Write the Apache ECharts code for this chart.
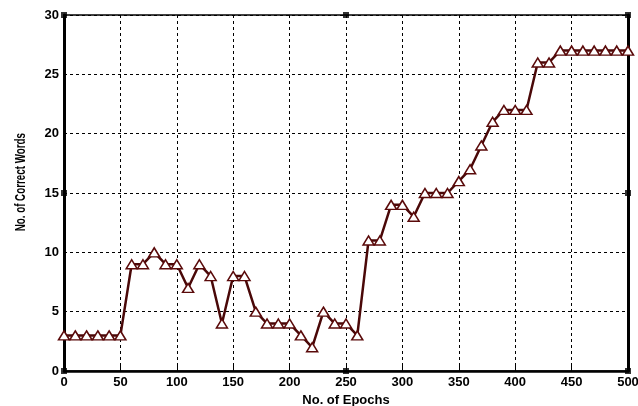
<!DOCTYPE html>
<html><head><meta charset="utf-8">
<script src="https://cdn.jsdelivr.net/npm/echarts@6/dist/echarts.min.js"></script>
<style>html,body{margin:0;padding:0;background:#fff}#c{width:638px;height:406px}</style>
</head><body><div id="c"></div>
<script>
const epochs = [0,10,20,30,40,50,60,70,80,90,100,110,120,130,140,150,160,170,180,190,200,210,220,230,240,250,260,270,280,290,300,310,320,330,340,350,360,370,380,390,400,410,420,430,440,450,460,470,480,490,500];
const correctWords = [3,3,3,3,3,3,9,9,10,9,9,7,9,8,4,8,8,5,4,4,4,3,2,5,4,4,3,11,11,14,14,13,15,15,15,16,17,19,21,22,22,22,26,26,27,27,27,27,27,27,27];
const frameMarks = [[0,0],[250,0],[500,0],[0,15],[500,15],[0,30],[250,30],[500,30]];
const yTitle = 'No. of Correct Words';
const xTitle = 'No. of Epochs';

const chart = echarts.init(document.getElementById('c'));
const lblFont = {fontFamily:'Liberation Sans, Arial', fontWeight:'bold', fontSize:13, color:'#000'};
chart.setOption({
  animation:false,
  grid:{left:64,right:10,top:15,bottom:35,outerBoundsMode:'none',containLabel:false,
        show:true,borderColor:'#000',borderWidth:1.5,backgroundColor:'#fff'},
  graphic:[{type:'text',left:14,top:133,rotation:Math.PI/2,scaleX:0.7,
    style:{text:yTitle,font:'bold 14px "Liberation Sans", Arial',fill:'#000'}}],
  xAxis:{type:'value',min:0,max:500,interval:50,
    name:xTitle,nameLocation:'middle',nameGap:23,
    nameTextStyle:{fontFamily:'Liberation Sans, Arial',fontWeight:'bold',fontSize:13,color:'#000'},
    axisLine:{lineStyle:{color:'#000',width:2.5}},
    axisTick:{inside:true,length:6,lineStyle:{color:'#000',width:1}},
    axisLabel:Object.assign({margin:5,showMaxLabel:true,hideOverlap:false},lblFont),
    splitLine:{show:true,lineStyle:{color:'#000',type:[3,3],width:1}}},
  yAxis:[{type:'value',min:0,max:30,interval:5,
    axisLine:{lineStyle:{color:'#000',width:3}},
    axisTick:{show:false},
    axisLabel:Object.assign({margin:5},lblFont),
    splitLine:{show:true,lineStyle:{color:'#000',type:[3,3],width:1}}},
    {type:'value',min:0,max:30,interval:5,position:'right',
    axisLine:{show:true,lineStyle:{color:'#000',width:3}},
    axisTick:{show:false},axisLabel:{show:false},splitLine:{show:false}}],
  series:[
    {type:'line',data:epochs.map((e,i)=>[e,correctWords[i]]),
    lineStyle:{color:'#4a0808',width:2.5},
    symbol:'triangle',symbolSize:[11,9],showAllSymbol:true,
    itemStyle:{color:'#fff',borderColor:'#5a0a0a',borderWidth:1.5},z:3},
    {type:'scatter',data:frameMarks,symbol:'rect',symbolSize:6,
     itemStyle:{color:'#000'},z:5,silent:true}
  ]
});
</script></body></html>
